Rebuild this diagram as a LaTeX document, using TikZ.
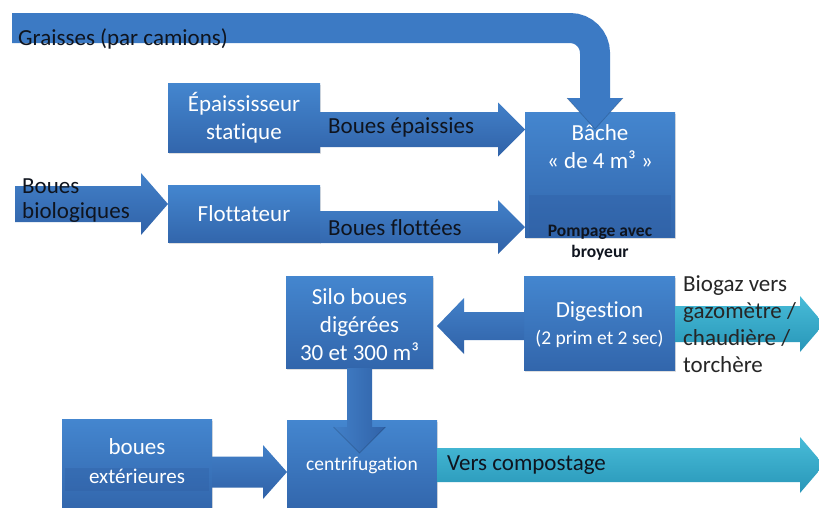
\documentclass[tikz,border=0pt]{standalone}
\usepackage{fontspec}
\setmainfont{Carlito}[Ligatures=NoCommon]
\usetikzlibrary{calc,shadows}
\definecolor{boxtop}{RGB}{68,134,207}
\definecolor{boxbot}{RGB}{50,102,172}
\definecolor{arrtop}{RGB}{66,128,200}
\definecolor{arrbot}{RGB}{48,98,168}
\definecolor{arrflat}{RGB}{60,122,196}
\definecolor{tealtop}{RGB}{72,188,216}
\definecolor{tealbot}{RGB}{40,150,184}
\definecolor{bandc}{RGB}{46,92,160}
\definecolor{ink}{RGB}{15,20,30}
\newcommand{\blockarrow}[6][]{%
  \coordinate (hb) at ($(#3)!#6!(#2)$);
  \path[#1] ($(#2)!#4!90:(#3)$) -- ($(hb)!#4!90:(#3)$) -- ($(hb)!#5!90:(#3)$) -- (#3)
    -- ($(hb)!#5!-90:(#3)$) -- ($(hb)!#4!-90:(#3)$) -- ($(#2)!#4!-90:(#3)$) -- cycle;}
\tikzset{
  box/.style={rectangle, inner sep=0pt, outer sep=0pt, top color=boxtop, bottom color=boxbot,
    text=white, align=center, font=\fontsize{23}{28}\selectfont,
    drop shadow={opacity=0.25, shadow xshift=1pt, shadow yshift=-2pt}},
  barrow/.style={top color=arrtop, bottom color=arrbot},
  varrow/.style={left color=arrtop, right color=arrbot},
  tarrow/.style={top color=tealtop, bottom color=tealbot},
  lbl/.style={text=ink, font=\fontsize{23}{25.5}\selectfont, inner sep=0pt, anchor=west, align=left},
  wtxt/.style={text=white, inner sep=0pt, font=\fontsize{23}{28}\selectfont},
}
\begin{document}
\begin{tikzpicture}[x=1pt, y=-1pt]
\clip (0,0) rectangle (819,507);
\fill[white] (0,0) rectangle (819,507);
% boxes
\node[box, minimum width=152pt, minimum height=69pt] (epa) at (244,117.5) {Épaississeur\\statique};
\node[box, minimum width=152pt, minimum height=57pt] (flo) at (244,213.5) {Flottateur};
\node[box, minimum width=150pt, minimum height=125pt] (bache) at (600,174.5) {};
\fill[bandc, opacity=0.3] ([xshift=4pt]bache.south west) rectangle ([xshift=-4pt,yshift=42pt]bache.south east);
\node[box, minimum width=147pt, minimum height=92pt] (silo) at (359.5,322) {};
\node[box, minimum width=151pt, minimum height=94pt] (dig) at (599.5,323) {};
\node[box, minimum width=150pt, minimum height=91pt] (ext) at (137,464.5) {};
\fill[bandc, opacity=0.3] ([xshift=3pt,yshift=-26pt]ext.west) rectangle ([xshift=-3pt,yshift=-3pt]ext.east);
\node[box, minimum width=150pt, minimum height=90pt, font=\fontsize{19.5}{22}\selectfont] (cen) at (362,465) {centrifugation};
% texts inside boxes
\node[wtxt] (bt1) at (600,133) {Bâche};
\node[wtxt] (bt2) at (600,160) {« de 4 m³ »};
\node[wtxt, align=center, font=\fontsize{23}{28}\selectfont] (st) at (359.5,325) {Silo boues\\digérées\\30 et 300 m³};
\node[wtxt] (dt1) at (599.5,312) {Digestion};
\node[wtxt, font=\fontsize{19.5}{22}\selectfont] (dt2) at (599.5,339) {(2 prim et 2 sec)};
\node[wtxt] (et1) at (137,447) {boues};
\node[wtxt, font=\fontsize{21}{24}\selectfont] (et2) at (137,476) {extérieures};
% connectors
\coordinate (g0) at (12,28);
\coordinate (gtip) at ([xshift=-5pt,yshift=-17pt]bache.north);
\coordinate (gbase) at ($(gtip)+(0,-31)$);
\draw[line width=30pt, draw=arrflat, rounded corners=25pt] (g0) -- (g0 -| gtip) -- ($(gbase)+(0,1)$);
\fill[arrflat] ($(gbase)+(-28,0)$) -- ($(gbase)+(28,0)$) -- (gtip) -- cycle;
\draw[black, opacity=0.15, line width=0.8pt] ($(gbase)+(-28,0)$) -- (gtip) -- ($(gbase)+(28,0)$);

\coordinate (a1s) at ($(epa.east)+(0,12)$);
\coordinate (a1e) at (bache.west |- a1s);
\blockarrow[barrow]{a1s}{a1e}{17.5pt}{27pt}{27pt}
\coordinate (a2s) at ($(flo.east)+(0,13.5)$);
\coordinate (a2e) at (bache.west |- a2s);
\blockarrow[barrow]{a2s}{a2e}{16pt}{27pt}{27pt}
\coordinate (b0) at (15,204);
\coordinate (b1) at (flo.west |- b0);
\blockarrow[barrow]{b0}{b1}{18pt}{31pt}{27pt}
\coordinate (d1) at ($(dig.west)+(0,3)$);
\coordinate (d2) at ($(silo.east |- d1)+(4,0)$);
\blockarrow[barrow]{d1}{d2}{14pt}{28pt}{27pt}
\coordinate (t1) at ($(dig.east)+(0,1)$);
\coordinate (t2) at (824,324);
\blockarrow[tarrow]{t1}{t2}{18pt}{28pt}{24pt}
\coordinate (v1) at (silo.south);
\coordinate (v2) at ($(cen.north)+(-2.5,33)$);
\blockarrow[varrow]{v1}{v2}{12.5pt}{26pt}{26pt}
\draw[black, opacity=0.15, line width=0.8pt] ($(hb)+(-26,0)$) -- (v2) -- ($(hb)+(26,0)$);
\coordinate (e1) at ($(ext.east)+(0,7.5)$);
\coordinate (e2) at (cen.west |- e1);
\blockarrow[barrow]{e1}{e2}{15.5pt}{27pt}{24pt}
\coordinate (c1) at (cen.east);
\coordinate (c2) at (824,465);
\blockarrow[tarrow]{c1}{c2}{17pt}{28pt}{24pt}
% labels
\node[lbl] (lg) at (18,39) {Graisses (par camions)};
\node[lbl] (l1) at (328,127) {Boues épaissies};
\node[lbl] (l2) at (328,228) {Boues flottées};
\node[lbl, font=\fontsize{23}{25}\selectfont] (l3) at (22,200.5) {Boues\\biologiques};
\node[lbl, text=black!85, font=\fontsize{23}{27}\selectfont] (l4) at (683,324) {Biogaz vers\\gazomètre /\\chaudière /\\torchère};
\node[lbl] (l5) at (447,465) {Vers compostage};
\node[text=ink, inner sep=0pt, align=center, font=\bfseries\fontsize{17.5}{21}\selectfont] (pomp) at (600,242.5) {Pompage avec\\broyeur};
\end{tikzpicture}
\end{document}
